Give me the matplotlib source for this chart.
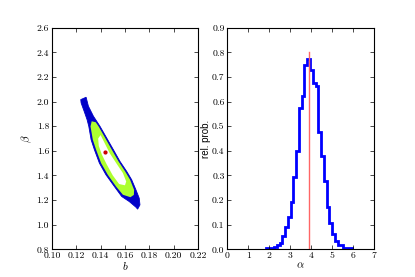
import numpy as np
import matplotlib
matplotlib.use("Agg")
import matplotlib.pyplot as plt

plt.rcParams['mathtext.fontset'] = 'cm'

# confidence regions in (b, beta), outlines
outer_b = [0.1237, 0.1281, 0.1300, 0.1341, 0.1395, 0.1450, 0.1505, 0.1559, 0.1614, 0.1655,
           0.1690, 0.1717, 0.1723, 0.1704, 0.1690, 0.1635, 0.1573, 0.1513, 0.1444, 0.1390,
           0.1349, 0.1322, 0.1303, 0.1289, 0.1265, 0.1240]
outer_beta = [2.016, 2.035, 1.962, 1.881, 1.799, 1.704, 1.609, 1.514, 1.433, 1.365,
              1.283, 1.215, 1.161, 1.126, 1.142, 1.188, 1.229, 1.310, 1.405, 1.500,
              1.609, 1.690, 1.799, 1.853, 1.921, 1.989]
mid_b = [0.1327, 0.1360, 0.1383, 0.1438, 0.1492, 0.1547, 0.1601, 0.1642, 0.1675,
         0.1673, 0.1645, 0.1583, 0.1527, 0.1459, 0.1404, 0.1363, 0.1336, 0.1317]
mid_beta = [1.840, 1.832, 1.799, 1.704, 1.609, 1.514, 1.433, 1.365, 1.283,
            1.242, 1.223, 1.243, 1.310, 1.405, 1.500, 1.609, 1.690, 1.799]
inner_b = [0.1400, 0.1433, 0.1474, 0.1528, 0.1583, 0.1610, 0.1600, 0.1552,
           0.1500, 0.1450, 0.1410, 0.1385, 0.1380]
inner_beta = [1.728, 1.663, 1.582, 1.500, 1.419, 1.351, 1.320, 1.330,
              1.400, 1.490, 1.570, 1.640, 1.700]
best_b, best_beta = 0.144, 1.59

# marginal distribution of alpha
alpha_edges = np.linspace(1.84, 5.95, 32)
alpha_prob = [0.004, 0.004, 0.005, 0.010, 0.018, 0.027, 0.052, 0.092, 0.130, 0.193,
              0.293, 0.398, 0.574, 0.622, 0.748, 0.771, 0.728, 0.676, 0.665, 0.478,
              0.377, 0.276, 0.171, 0.106, 0.062, 0.035, 0.016, 0.016, 0.007, 0.007, 0.007]
alpha_best = 3.9

fig, (ax1, ax2) = plt.subplots(1, 2, figsize=(4.15, 2.77), dpi=100)
fig.subplots_adjust(left=0.125, right=0.9, bottom=0.1, top=0.9, wspace=0.2)

ax1.fill(outer_b, outer_beta, color='#0000c8', lw=0.6, ec='#0000c8')
ax1.fill(mid_b, mid_beta, color='#adff2f', lw=0)
ax1.fill(inner_b, inner_beta, color='white', lw=0)
ax1.plot([best_b], [best_beta], 'o', color='#cc0000', ms=2)
ax1.set_xlim(0.10, 0.22)
ax1.set_ylim(0.8, 2.6)
ax1.set_xticks(np.arange(0.10, 0.221, 0.02))
ax1.set_yticks(np.arange(0.8, 2.61, 0.2))
ax1.set_xticklabels(['%.2f' % v for v in ax1.get_xticks()])
ax1.set_yticklabels(['%.1f' % v for v in ax1.get_yticks()])
ax1.set_xlabel(r'$b$', fontsize=8, labelpad=0)
ax1.set_ylabel(r'$\beta$', fontsize=8, labelpad=2)

ax2.stairs(alpha_prob, alpha_edges, color='blue', lw=2)
ax2.plot([alpha_best, alpha_best], [0, 0.8], color='#ff6666', lw=1)
ax2.set_xlim(0, 7)
ax2.set_ylim(0, 0.9)
ax2.set_xticks(range(8))
ax2.set_yticks(np.arange(0, 0.91, 0.1))
ax2.set_xticklabels([str(v) for v in range(8)])
ax2.set_yticklabels(['%.1f' % v for v in ax2.get_yticks()])
ax2.set_xlabel(r'$\alpha$', fontsize=8, labelpad=0)
ax2.set_ylabel('rel. prob.', fontsize=7, family='Liberation Sans', labelpad=1)

for ax in (ax1, ax2):
    ax.tick_params(direction='in', top=True, right=True, length=3, width=0.5,
                   labelsize=7, pad=2)
    for lab in ax.get_xticklabels() + ax.get_yticklabels():
        lab.set_family('cmr10')
    for s in ax.spines.values():
        s.set_linewidth(0.8)

fig.savefig('out.png', dpi=100)
